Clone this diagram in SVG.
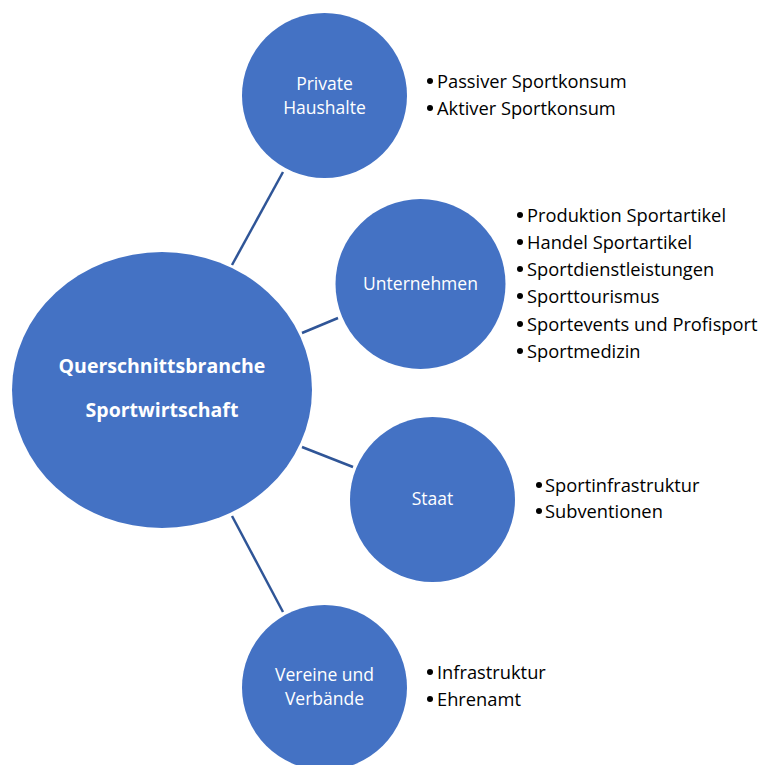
<svg xmlns="http://www.w3.org/2000/svg" width="761" height="765" viewBox="0 0 761 765">
<style>
.node{fill:#4472C4;}
.lbl{font-family:"Open Sans","Noto Sans",sans-serif;font-size:17.5px;fill:#ffffff;text-anchor:middle;}
.main{font-family:"Open Sans","Noto Sans",sans-serif;font-size:19.5px;font-weight:bold;fill:#ffffff;text-anchor:middle;}
.bul{font-family:"Open Sans","Noto Sans",sans-serif;font-size:18.3px;fill:#000000;}
.dot{fill:#000000;}
.con{stroke:#2F5597;stroke-width:2.5;fill:none;}
</style>
<defs>
<circle id="b" class="dot" r="3"/>
</defs>
<rect width="761" height="765" fill="#ffffff"/>
<g id="connectors">
<line class="con" x1="232" y1="265" x2="283" y2="172"/>
<line class="con" x1="302" y1="333" x2="338" y2="318"/>
<line class="con" x1="302" y1="447" x2="353" y2="467"/>
<line class="con" x1="232" y1="516" x2="283" y2="612"/>
</g>
<g id="main">
<ellipse class="node" cx="162" cy="390" rx="150" ry="138"/>
<text class="main" x="162" y="373">Querschnittsbranche</text>
<text class="main" x="162" y="417">Sportwirtschaft</text>
</g>
<g id="private">
<circle class="node" cx="324.5" cy="95.5" r="82.5"/>
<text class="lbl" x="324.5" y="90">Private</text>
<text class="lbl" x="324.5" y="114">Haushalte</text>
</g>
<g id="private-list">
<use href="#b" x="430" y="81"/><text class="bul" x="437" y="88">Passiver Sportkonsum</text>
<use href="#b" x="430" y="108"/><text class="bul" x="437" y="115">Aktiver Sportkonsum</text>
</g>
<g id="unternehmen">
<circle class="node" cx="420.5" cy="284" r="85"/>
<text class="lbl" x="420.5" y="290">Unternehmen</text>
</g>
<g id="unternehmen-list">
<use href="#b" x="520" y="215"/><text class="bul" x="527" y="222">Produktion Sportartikel</text>
<use href="#b" x="520" y="242"/><text class="bul" x="527" y="249">Handel Sportartikel</text>
<use href="#b" x="520" y="269"/><text class="bul" x="527" y="276">Sportdienstleistungen</text>
<use href="#b" x="520" y="296"/><text class="bul" x="527" y="303">Sporttourismus</text>
<use href="#b" x="520" y="324"/><text class="bul" x="527" y="331">Sportevents und Profisport</text>
<use href="#b" x="520" y="351"/><text class="bul" x="527" y="358">Sportmedizin</text>
</g>
<g id="staat">
<circle class="node" cx="432.5" cy="499.5" r="82.5"/>
<text class="lbl" x="432.5" y="505">Staat</text>
</g>
<g id="staat-list">
<use href="#b" x="539" y="485"/><text class="bul" x="545" y="492">Sportinfrastruktur</text>
<use href="#b" x="539" y="511"/><text class="bul" x="545" y="518">Subventionen</text>
</g>
<g id="vereine">
<circle class="node" cx="324.5" cy="687.5" r="82.5"/>
<text class="lbl" x="324.5" y="681">Vereine und</text>
<text class="lbl" x="324.5" y="705">Verbände</text>
</g>
<g id="vereine-list">
<use href="#b" x="430" y="672"/><text class="bul" x="437" y="679">Infrastruktur</text>
<use href="#b" x="430" y="699"/><text class="bul" x="437" y="706">Ehrenamt</text>
</g>
</svg>
